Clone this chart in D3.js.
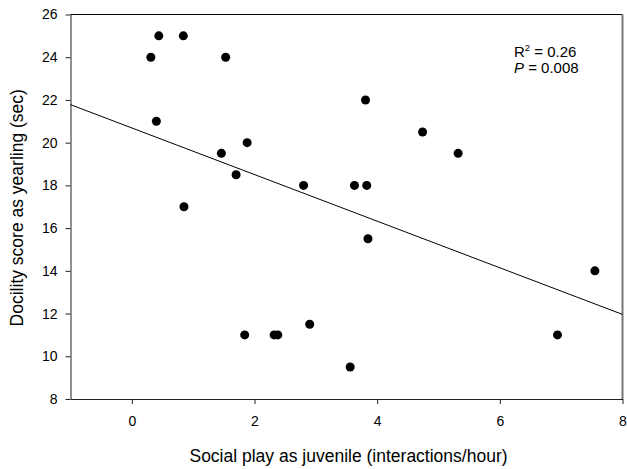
<!DOCTYPE html>
<html lang="en">
<head>
<meta charset="utf-8">
<title>Docility vs social play</title>
<script src="https://d3js.org/d3.v7.min.js"></script>
<style>
    body { margin: 0; background: #fff; }
    #chart text { font-family: Arial, "Liberation Sans", sans-serif; fill: #000; }
    #chart .tick text { font-size: 14px; }
    #chart .domain, #chart .tick line { stroke: #222; }
</style>
</head>
<body>
<div id="chart"></div>
<script>
    "use strict"

    // social play (interactions/hour) and docility score (sec)
    var playRate = [0.31, 0.44, 0.84, 1.53, 0.40, 1.46, 1.88, 1.70, 2.80, 0.85,
                    3.81, 4.74, 5.32, 3.63, 3.83, 3.85, 1.84, 2.32, 2.38, 2.90,
                    3.56, 6.94, 7.55];
    var docility = [24, 25, 25, 24, 21, 19.5, 20, 18.5, 18, 17,
                    22, 20.5, 19.5, 18, 18, 15.5, 11, 11, 11, 11.5,
                    9.5, 11, 14];

    // fitted line, end points read at the plot edges
    var fitX = [-1, 8];
    var fitY = [21.78, 11.96];

    var xTicks = [0, 2, 4, 6, 8];
    var yTicks = [8, 10, 12, 14, 16, 18, 20, 22, 24, 26];

    var width = 627, height = 469;
    var margin = { top: 14.5, right: 4.5, bottom: 70, left: 70.5 };
    var w = width - margin.left - margin.right;
    var h = height - margin.top - margin.bottom;

    var svg = d3.select('#chart')
        .append('svg')
        .attr('width', width)
        .attr('height', height);

    var graph = svg.append('g')
        .attr('transform', 'translate(' + margin.left + ',' + margin.top + ')');

    var x = d3.scaleLinear().domain([-1, 8]).range([0, w]);
    var y = d3.scaleLinear().domain([8, 26]).range([h, 0]);

    // frame: top and right
    graph.append('line')
        .attr('x1', 0).attr('x2', w).attr('y1', 0).attr('y2', 0)
        .attr('stroke', '#000').attr('stroke-width', 1);
    graph.append('line')
        .attr('x1', w).attr('x2', w).attr('y1', 0).attr('y2', h)
        .attr('stroke', '#777').attr('stroke-width', 2);

    graph.append('g')
        .attr('class', 'x axis')
        .attr('transform', 'translate(0,' + h + ')')
        .call(d3.axisBottom(x).tickValues(xTicks).tickSize(5).tickSizeOuter(0).tickPadding(12));

    graph.append('g')
        .attr('class', 'y axis')
        .call(d3.axisLeft(y).tickValues(yTicks).tickSize(5).tickSizeOuter(0).tickPadding(8));

    graph.append('line')
        .attr('x1', x(fitX[0])).attr('y1', y(fitY[0]))
        .attr('x2', x(fitX[1])).attr('y2', y(fitY[1]))
        .attr('stroke', '#000')
        .attr('stroke-width', 1);

    graph.selectAll('circle')
        .data(d3.zip(playRate, docility))
        .enter()
        .append('circle')
        .attr('cx', d => x(d[0]))
        .attr('cy', d => y(d[1]))
        .attr('r', 4.5)
        .attr('fill', '#000');

    // stats annotation
    var stats = graph.append('text')
        .attr('x', 443.5)
        .attr('y', 42.2)
        .style('font-size', '15px');
    stats.append('tspan').text('R');
    stats.append('tspan').attr('dy', -6).style('font-size', '9.5px').text('2');
    stats.append('tspan').attr('dy', 6).text(' = 0.26');

    var pText = graph.append('text')
        .attr('x', 443.5)
        .attr('y', 58.8)
        .style('font-size', '15px');
    pText.append('tspan').style('font-style', 'italic').text('P');
    pText.append('tspan').text(' = 0.008');

    graph.append('text')
        .attr('text-anchor', 'middle')
        .attr('transform', 'translate(' + (w / 2 + 2) + ',' + (h + 62.5) + ')')
        .style('font-size', '17.5px')
        .text('Social play as juvenile (interactions/hour)');

    graph.append('text')
        .attr('text-anchor', 'middle')
        .attr('transform', 'translate(-47.5,' + (h / 2 + 1) + ') rotate(-90)')
        .style('font-size', '17.5px')
        .text('Docility score as yearling (sec)');
</script>
</body>
</html>
